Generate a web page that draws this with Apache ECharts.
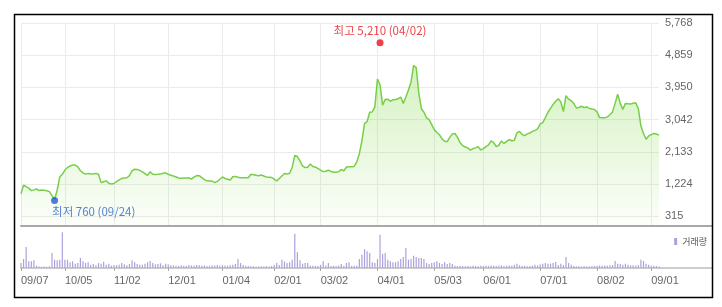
<!DOCTYPE html>
<html>
<head>
<meta charset="utf-8">
<script src="https://cdn.jsdelivr.net/npm/echarts@6/dist/echarts.min.js"></script>
<style>
html,body{margin:0;padding:0;background:#fff;}
#chart{width:722px;height:307px;}
</style>
</head>
<body>
<div id="chart"></div>
<script>
// ---- data ----
const dates = [
'09/07','09/08','09/09','09/10','09/11','09/14','09/15','09/16','09/17','09/18','09/21','09/22','09/23','09/24','09/25','09/28','09/29',
'10/05','10/06','10/07','10/08','10/12','10/13','10/14','10/15','10/16','10/19','10/20','10/21','10/22','10/23','10/26','10/27','10/28','10/29','10/30',
'11/02','11/03','11/04','11/05','11/06','11/09','11/10','11/11','11/12','11/13','11/16','11/17','11/18','11/19','11/20','11/23','11/24','11/25','11/26','11/27','11/30',
'12/01','12/02','12/03','12/04','12/07','12/08','12/09','12/10','12/11','12/14','12/15','12/16','12/17','12/18','12/21','12/22','12/23','12/24','12/28','12/29','12/30',
'01/04','01/05','01/06','01/07','01/08','01/11','01/12','01/13','01/14','01/15','01/18','01/19','01/20','01/21','01/22','01/25','01/26','01/27','01/28','01/29',
'02/01','02/02','02/03','02/04','02/05','02/08','02/09','02/10','02/15','02/16','02/17','02/18','02/19','02/22','02/23','02/24','02/25','02/26',
'03/02','03/03','03/04','03/05','03/08','03/09','03/10','03/11','03/12','03/15','03/16','03/17','03/18','03/19','03/22','03/23','03/24','03/25','03/26','03/29','03/30','03/31',
'04/01','04/02','04/05','04/06','04/07','04/08','04/09','04/12','04/13','04/14','04/15','04/16','04/19','04/20','04/21','04/22','04/23','04/26','04/27','04/28','04/29','04/30',
'05/03','05/04','05/06','05/07','05/10','05/11','05/12','05/13','05/14','05/17','05/18','05/20','05/21','05/24','05/25','05/26','05/27','05/28','05/31',
'06/01','06/02','06/03','06/04','06/07','06/08','06/09','06/10','06/11','06/14','06/15','06/16','06/17','06/18','06/21','06/22','06/23','06/24','06/25','06/28','06/29','06/30',
'07/01','07/02','07/05','07/06','07/07','07/08','07/09','07/12','07/13','07/14','07/15','07/16','07/19','07/20','07/21','07/22','07/23','07/26','07/27','07/28','07/29','07/30',
'08/02','08/03','08/04','08/05','08/06','08/09','08/10','08/11','08/12','08/13','08/17','08/18','08/19','08/20','08/23','08/24','08/25','08/26','08/27','08/30','08/31',
'09/01','09/02','09/03','09/06'
];

const prices = [
950,1190,1150,1110,1040,1060,1085,1040,1055,1050,
1035,1010,900,790,1050,1420,1500,1620,1690,1735,
1760,1760,1710,1600,1540,1505,1525,1510,1515,1525,
1500,1265,1290,1315,1245,1225,1240,1290,1340,1384,
1395,1402,1460,1600,1645,1635,1610,1570,1520,1470,
1570,1500,1497,1500,1505,1530,1540,1500,1475,1450,
1425,1395,1390,1395,1398,1400,1365,1420,1465,1460,
1405,1350,1315,1312,1305,1265,1300,1360,1425,1380,
1360,1340,1430,1440,1415,1405,1400,1402,1402,1500,
1485,1470,1460,1478,1450,1425,1418,1410,1365,1310,
1380,1450,1520,1505,1530,1700,2030,2000,1875,1740,
1690,1700,1790,1720,1700,1660,1615,1575,1585,1615,
1580,1560,1555,1575,1635,1600,1705,1712,1710,1720,
1850,2080,2450,2930,2990,3250,3260,3400,4190,4020,
3450,3610,3620,3560,3600,3610,3630,3680,3500,3680,
3880,4100,4570,4510,3800,3350,3250,3090,3040,2900,
2760,2680,2615,2500,2430,2420,2540,2640,2650,2540,
2390,2310,2270,2240,2180,2225,2245,2280,2185,2225,
2280,2330,2440,2390,2280,2320,2440,2370,2430,2480,
2445,2460,2670,2710,2620,2590,2640,2665,2710,2740,
2780,2920,2960,3100,3250,3360,3470,3560,3630,3540,
3270,3720,3620,3575,3500,3370,3385,3420,3385,3400,
3360,3340,3330,3260,3100,3092,3092,3120,3180,3260,
3500,3760,3500,3330,3500,3490,3480,3505,3515,3350,
2860,2650,2490,2580,2620,2650,2635,2605
];

const volumes = [
250,450,1050,335,335,385,115,75,60,75,
65,85,750,415,385,415,1785,415,415,285,
335,215,250,500,335,250,285,165,200,135,
250,215,315,165,215,115,150,135,165,250,
185,135,200,385,285,200,165,165,215,285,
350,250,185,200,235,150,215,185,135,125,
115,100,135,115,100,150,125,110,150,135,
115,125,100,110,135,125,150,115,140,125,
115,135,165,200,450,250,150,115,100,90,
85,75,75,90,75,85,75,100,165,250,
150,415,335,250,285,415,1715,785,385,215,
250,250,115,115,100,100,165,335,125,250,
100,115,100,125,200,115,250,285,100,115,
110,450,665,950,835,750,285,250,450,1665,
715,750,415,335,285,285,335,450,550,1000,
415,450,615,550,500,500,450,250,200,250,
285,335,250,200,285,200,250,200,115,100,
115,100,90,100,85,115,100,90,110,100,
115,100,125,110,100,115,135,100,115,125,
115,165,215,135,100,115,90,100,115,165,
125,185,215,250,215,215,250,300,150,215,
150,550,250,165,100,90,85,75,85,75,
75,85,100,115,125,110,125,115,135,150,
350,215,200,165,215,165,135,135,115,150,
415,350,215,165,115,115,100,75
];

const tickDates = ['09/07','10/05','11/02','12/01','01/04','02/01','03/02','04/01','05/03','06/01','07/01','08/02','09/01'];
const yTicks = [315,1224,2133,3042,3950,4859,5768];
const lowDate = '09/24', lowValue = 760;
const highDate = '04/02', highValue = 5210;
const volumeName = '거래량';

// ---- chart ----
const fmt = v => Math.round(v).toLocaleString('en-US');
const isTick = (i, v) => tickDates.includes(v);
const chart = echarts.init(document.getElementById('chart'), null, {renderer: 'canvas'});
const FONT = '"Liberation Sans", Arial, sans-serif';
const KFONT = '"Noto Sans CJK KR", "Liberation Sans", sans-serif';

chart.setOption({
  animation: false,
  backgroundColor: '#fff',
  textStyle: {fontFamily: FONT},
  legend: {
    data: [volumeName],
    right: 10, top: 232,
    icon: 'rect', itemWidth: 3, itemHeight: 7, itemGap: 3,
    textStyle: {fontSize: 9, color: '#555', fontFamily: KFONT},
    selectedMode: false
  },
  grid: [
    {left: 21, right: 63, top: 23, height: 203},
    {left: 21, right: 63, top: 232, height: 36}
  ],
  xAxis: [
    {
      type: 'category', gridIndex: 0, data: dates, boundaryGap: false,
      axisLine: {show: true, lineStyle: {color: '#a8a8a8', width: 2}},
      axisTick: {show: false},
      axisLabel: {show: false},
      splitLine: {show: true, interval: isTick, lineStyle: {color: '#ebebeb', width: 1}}
    },
    {
      type: 'category', gridIndex: 1, data: dates, boundaryGap: false,
      axisLine: {show: true, lineStyle: {color: '#bdbdbd', width: 1.5}},
      axisTick: {show: true, interval: isTick, length: 3, lineStyle: {color: '#aaa'}},
      axisLabel: {show: true, interval: isTick, align: 'left', margin: 7, fontSize: 11, color: '#666', fontFamily: FONT},
      splitLine: {show: false}
    }
  ],
  yAxis: [
    {
      type: 'value', gridIndex: 0, position: 'right', min: 41, max: 5768,
      axisLine: {show: false},
      axisTick: {show: false, customValues: yTicks},
      axisLabel: {customValues: yTicks, formatter: fmt, margin: 6, fontSize: 11, color: '#666', fontFamily: FONT},
      splitLine: {show: true, lineStyle: {color: '#ebebeb', width: 1}}
    },
    {
      type: 'value', gridIndex: 1, min: 0, max: 1800,
      axisLine: {show: false}, axisTick: {show: false}, axisLabel: {show: false}, splitLine: {show: false}
    }
  ],
  series: [
    {
      type: 'line', xAxisIndex: 0, yAxisIndex: 0, data: prices,
      symbol: 'none', smooth: false,
      lineStyle: {color: '#77cf48', width: 1.5},
      areaStyle: {
        color: new echarts.graphic.LinearGradient(0, 0, 0, 1, [
          {offset: 0, color: 'rgba(135,218,80,0.5)'},
          {offset: 1, color: 'rgba(135,218,80,0.04)'}
        ])
      },
      z: 2
    },
    {
      type: 'scatter', xAxisIndex: 0, yAxisIndex: 0, symbolSize: 7, z: 5,
      data: [
        {
          value: [lowDate, lowValue], itemStyle: {color: '#1f5fd1'},
          label: {show: true, position: [1, 9], align: 'left', verticalAlign: 'top',
                  formatter: '최저 ' + fmt(lowValue) + ' (' + lowDate + ')',
                  color: '#2a64c5', fontSize: 11.5, fontFamily: KFONT}
        },
        {
          value: [highDate, highValue], itemStyle: {color: '#e8101a'},
          label: {show: true, position: 'top', distance: 3,
                  formatter: '최고 ' + fmt(highValue) + ' (' + highDate + ')',
                  color: '#e5131b', fontSize: 11.5, fontFamily: KFONT}
        }
      ]
    },
    {
      name: volumeName, type: 'bar', xAxisIndex: 1, yAxisIndex: 1, data: volumes,
      barWidth: 1.2, itemStyle: {color: '#ae a0dc'.replace(' ', '')}
    }
  ],
  graphic: [
    {type: 'line', shape: {x1: 659, y1: 226, x2: 713, y2: 226}, style: {stroke: '#a8a8a8', lineWidth: 2}, silent: true},
    {type: 'line', shape: {x1: 659, y1: 268, x2: 713, y2: 268}, style: {stroke: '#bdbdbd', lineWidth: 1.5}, silent: true},
    {type: 'rect', shape: {x: 14.5, y: 14.5, width: 698, height: 283}, style: {fill: null, stroke: '#000', lineWidth: 1.5}, silent: true, z: 100}
  ]
});
</script>
</body>
</html>
